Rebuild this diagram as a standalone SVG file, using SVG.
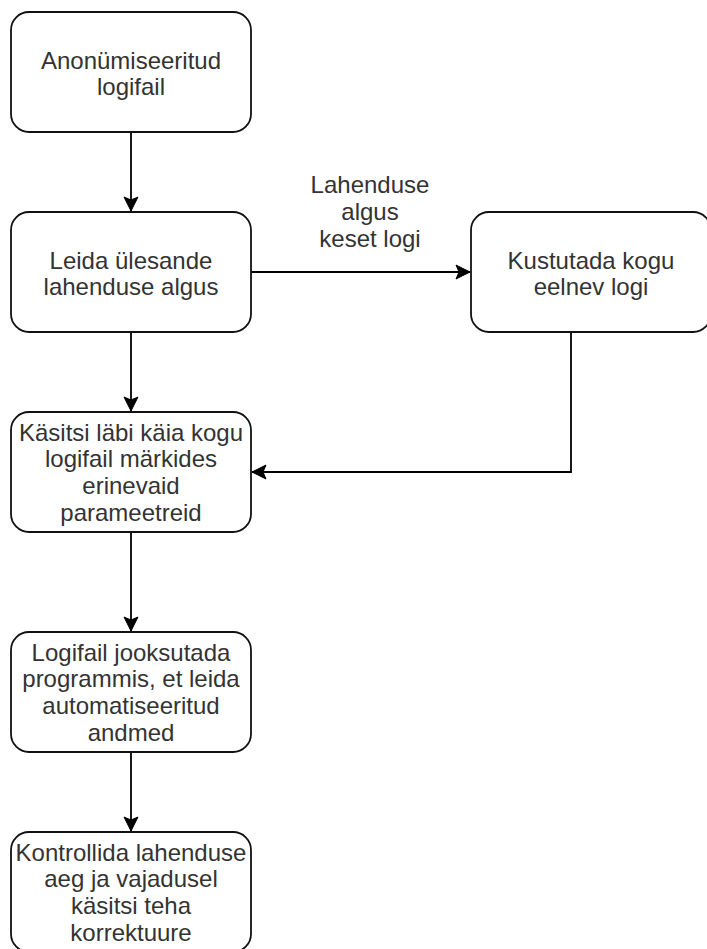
<svg xmlns="http://www.w3.org/2000/svg" width="707" height="949" viewBox="0 0 707 949">
<style>
.box{fill:#fff;stroke:#111;stroke-width:1.8}
.t{font-family:"Liberation Sans",Arial,sans-serif;font-size:24px;fill:#333;text-anchor:middle}
.c{fill:none;stroke:#000;stroke-width:1.8}
</style>
<defs>
<marker id="ah" markerUnits="userSpaceOnUse" markerWidth="20" markerHeight="20" viewBox="0 0 20 20" refX="16" refY="10" orient="auto">
<path d="M2,3 L16,10 L2,17 L5,10 Z" fill="#000" stroke="#000" stroke-width="1"/>
</marker>
</defs>
<rect width="707" height="949" fill="#fff"/>
<g id="connectors">
<path class="c" d="M131,132 V211" marker-end="url(#ah)"/>
<path class="c" d="M251,272 H470" marker-end="url(#ah)"/>
<path class="c" d="M571,332 V472 H252" marker-end="url(#ah)"/>
<path class="c" d="M131,332 V411" marker-end="url(#ah)"/>
<path class="c" d="M131,532 V631" marker-end="url(#ah)"/>
<path class="c" d="M131,752 V831" marker-end="url(#ah)"/>
<g id="edge-label">
<text class="t" x="370" y="193">Lahenduse</text>
<text class="t" x="370" y="220">algus</text>
<text class="t" x="370" y="247">keset logi</text>
</g>
</g>
<g id="n1">
<rect class="box" x="11" y="12" width="240" height="120" rx="18"/>
<text class="t" x="131" y="68.5">Anonümiseeritud</text>
<text class="t" x="131" y="95.2">logifail</text>
</g>
<g id="n2">
<rect class="box" x="11" y="212" width="240" height="120" rx="18"/>
<text class="t" x="131" y="268.5">Leida ülesande</text>
<text class="t" x="131" y="295.2">lahenduse algus</text>
</g>
<g id="n3">
<rect class="box" x="471" y="212" width="240" height="120" rx="18"/>
<text class="t" x="591" y="268.5">Kustutada kogu</text>
<text class="t" x="591" y="295.2">eelnev logi</text>
</g>
<g id="n4">
<rect class="box" x="11" y="412" width="240" height="120" rx="18"/>
<text class="t" x="131" y="440.5">Käsitsi läbi käia kogu</text>
<text class="t" x="131" y="467.2">logifail märkides</text>
<text class="t" x="131" y="493.9">erinevaid</text>
<text class="t" x="131" y="520.6">parameetreid</text>
</g>
<g id="n5">
<rect class="box" x="11" y="632" width="240" height="120" rx="18"/>
<text class="t" x="131" y="660.5">Logifail jooksutada</text>
<text class="t" x="131" y="687.2">programmis, et leida</text>
<text class="t" x="131" y="713.9">automatiseeritud</text>
<text class="t" x="131" y="740.6">andmed</text>
</g>
<g id="n6">
<rect class="box" x="11" y="832" width="240" height="120" rx="18"/>
<text class="t" x="131" y="860.5">Kontrollida lahenduse</text>
<text class="t" x="131" y="887.2">aeg ja vajadusel</text>
<text class="t" x="131" y="913.9">käsitsi teha</text>
<text class="t" x="131" y="940.6">korrektuure</text>
</g>
</svg>
